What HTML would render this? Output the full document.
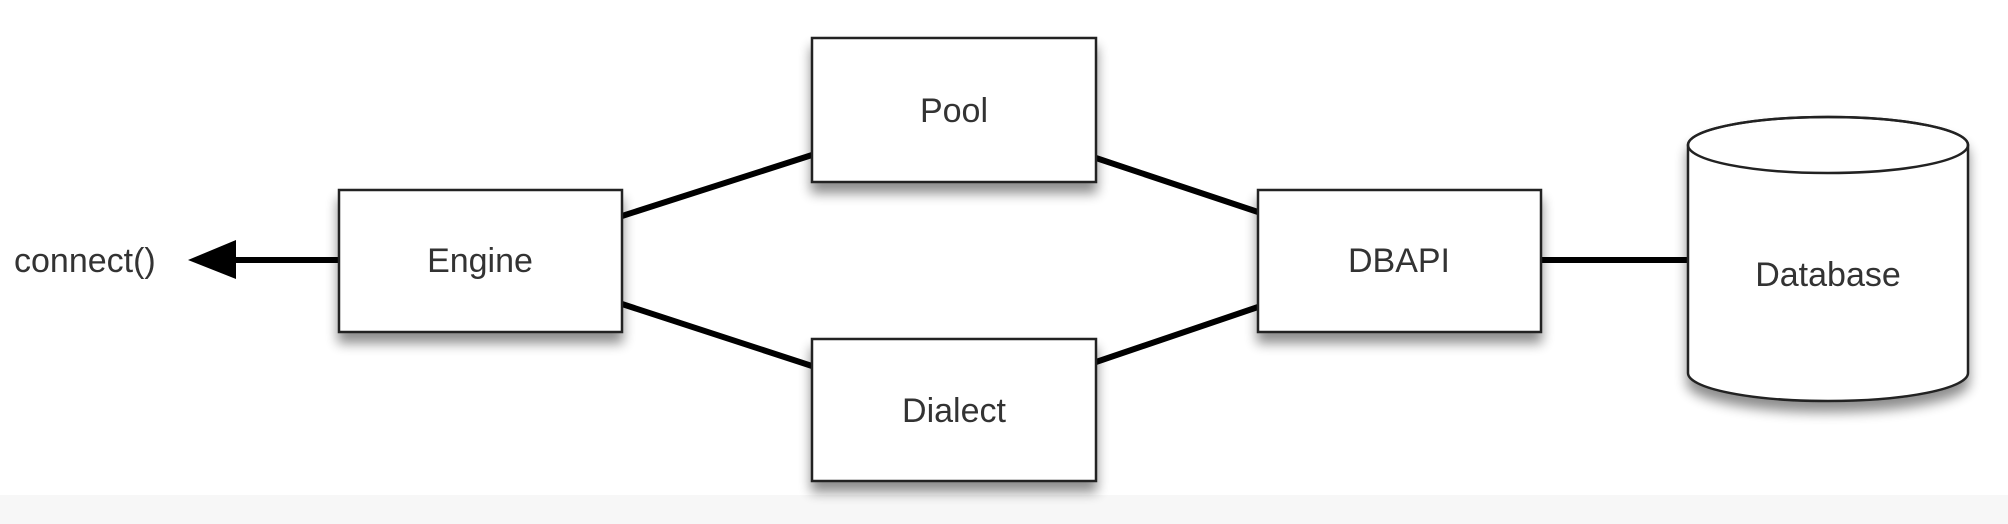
<!DOCTYPE html>
<html><head><meta charset="utf-8"><style>
html,body{margin:0;padding:0;background:#fff;}
svg{display:block;}
text{font-family:"Liberation Sans",Arial,sans-serif;font-size:34px;fill:#333;}
</style></head><body>
<svg width="2008" height="524" viewBox="0 0 2008 524" xmlns="http://www.w3.org/2000/svg">
<defs>
<filter id="sh" x="-20%" y="-20%" width="140%" height="160%">
<feGaussianBlur in="SourceAlpha" stdDeviation="6"/>
<feOffset dx="0" dy="10" result="b"/>
<feComponentTransfer><feFuncA type="linear" slope="0.45"/></feComponentTransfer>
<feMerge><feMergeNode/><feMergeNode in="SourceGraphic"/></feMerge>
</filter>
</defs>
<rect x="0" y="495" width="2008" height="29" fill="#f7f7f7"/>
<g stroke="#000" stroke-width="6" fill="none">
<line x1="622" y1="216" x2="812" y2="155"/>
<line x1="622" y1="304" x2="812" y2="366"/>
<line x1="1096" y1="158" x2="1258" y2="212"/>
<line x1="1096" y1="362" x2="1258" y2="307"/>
<line x1="1541" y1="260" x2="1688" y2="260"/>
<line x1="339" y1="260" x2="230" y2="260"/>
</g>
<polygon points="188,260 236,240 236,279" fill="#000"/>
<g fill="#fff" stroke="#222" stroke-width="2.5" filter="url(#sh)">
<rect x="339" y="190" width="283" height="142"/>
<rect x="812" y="38" width="284" height="144"/>
<rect x="812" y="339" width="284" height="142"/>
<rect x="1258" y="190" width="283" height="142"/>
<path d="M1688,145 L1688,373 A140,28 0 0 0 1968,373 L1968,145 A140,28 0 0 0 1688,145 Z"/>
</g>
<ellipse cx="1828" cy="145" rx="140" ry="28" fill="none" stroke="#222" stroke-width="2.5"/>
<g text-anchor="middle">
<text x="480" y="272">Engine</text>
<text x="954" y="122">Pool</text>
<text x="954" y="422">Dialect</text>
<text x="1399" y="272">DBAPI</text>
<text x="1828" y="286">Database</text>
</g>
<text x="14" y="272">connect()</text>
</svg>
</body></html>
